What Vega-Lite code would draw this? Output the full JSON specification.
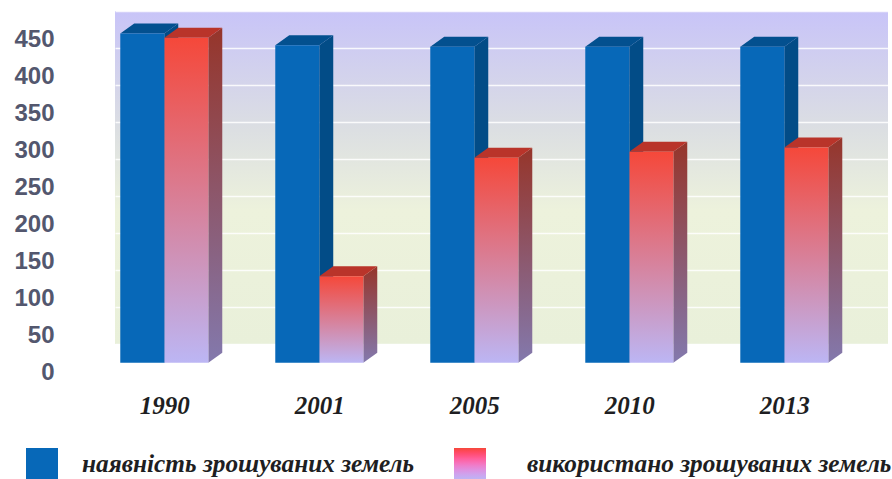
{
  "$schema": "https://vega.github.io/schema/vega-lite/v6.json",
  "autosize": "none",
  "width": 773,
  "height": 333,
  "padding": {"left": 115, "top": 11, "right": 4, "bottom": 135},
  "background": "#ffffff",
  "view": {
    "stroke": null,
    "fill": {
      "x1": 0, "y1": 0, "x2": 0, "y2": 1, "gradient": "linear",
      "stops": [
        {"offset": 0, "color": "#c8c4f8"},
        {"offset": 0.36, "color": "#dcdfe2"},
        {"offset": 0.6, "color": "#edf2dc"},
        {"offset": 1, "color": "#e9f0da"}
      ]
    }
  },
  "data": {
    "values": [
      {"year": "1990", "series": "наявність зрошуваних земель", "value": 445},
      {"year": "2001", "series": "наявність зрошуваних земель", "value": 429},
      {"year": "2005", "series": "наявність зрошуваних земель", "value": 427},
      {"year": "2010", "series": "наявність зрошуваних земель", "value": 427},
      {"year": "2013", "series": "наявність зрошуваних земель", "value": 427},
      {"year": "1990", "series": "використано зрошуваних земель", "value": 439},
      {"year": "2001", "series": "використано зрошуваних земель", "value": 117},
      {"year": "2005", "series": "використано зрошуваних земель", "value": 277},
      {"year": "2010", "series": "використано зрошуваних земель", "value": 285},
      {"year": "2013", "series": "використано зрошуваних земель", "value": 291}
    ]
  },
  "transform": [
    {"calculate": "indexof(['1990','2001','2005','2010','2013'], datum.year)", "as": "slot"},
    {"calculate": "datum.slot + (datum.series === 'наявність зрошуваних земель' ? -0.284 : 0)", "as": "left"},
    {"calculate": "datum.left + 0.284", "as": "right"},
    {"calculate": "[0, 1]", "as": "t"}
  ],
  "resolve": {
    "scale": {"y": "independent", "fill": "independent"},
    "axis": {"y": "independent"},
    "legend": {"fill": "independent"}
  },
  "layer": [
    {
      "description": "Back wall gridlines and the value axis",
      "mark": {"type": "rule", "opacity": 0},
      "encoding": {
        "y": {
          "field": "value",
          "type": "quantitative",
          "scale": {"domain": [0, 450], "nice": false, "zero": false},
          "axis": {
            "title": null,
            "values": [0, 50, 100, 150, 200, 250, 300, 350, 400, 450],
            "domain": false,
            "ticks": false,
            "grid": true,
            "gridColor": "#ffffff",
            "gridWidth": 1.5,
            "gridOpacity": 0.85,
            "labelOffset": 28,
            "labelPadding": 61,
            "labelFont": "Liberation Sans",
            "labelFontWeight": "bold",
            "labelFontSize": 24,
            "labelColor": "#53576e",
            "labelBound": false,
            "labelFlush": false,
            "labelOverlap": false
          }
        }
      }
    },
    {
      "description": "Three-dimensional columns: side and top faces behind the gradient fronts",
      "encoding": {
        "x": {
          "type": "quantitative",
          "scale": {"domain": [-0.318, 4.669], "nice": false, "zero": false},
          "axis": {
            "title": null,
            "values": [0, 1, 2, 3, 4],
            "labelExpr": "['1990','2001','2005','2010','2013'][datum.value]",
            "domain": false,
            "ticks": false,
            "grid": false,
            "labelPadding": 49,
            "labelFont": "Liberation Serif",
            "labelFontStyle": "italic",
            "labelFontWeight": "bold",
            "labelFontSize": 25,
            "labelColor": "#1e1e22",
            "labelBound": false,
            "labelFlush": false,
            "labelOverlap": false
          }
        }
      },
      "resolve": {
        "scale": {"fill": "independent"},
        "legend": {"fill": "independent"}
      },
      "layer": [
        {
          "transform": [
            {"filter": "datum.series === 'наявність зрошуваних земель'"},
            {"flatten": ["t"]},
            {"calculate": "datum.right + datum.t * 0.09", "as": "sx"},
            {"calculate": "datum.value + datum.t * 13.5", "as": "sTop"},
            {"calculate": "datum.t * 13.5", "as": "sBase"}
          ],
          "mark": {"type": "area", "fill": "#024c87"},
          "encoding": {
            "x": {"field": "sx", "type": "quantitative"},
            "y": {"field": "sTop", "type": "quantitative", "stack": null,
                  "scale": {"domain": [25.3, 475.3], "nice": false, "zero": false}, "axis": null},
            "y2": {"field": "sBase"},
            "detail": {"field": "year"}
          }
        },
        {
          "transform": [
            {"filter": "datum.series === 'наявність зрошуваних земель'"},
            {"flatten": ["t"]},
            {"calculate": "datum.left + datum.t * 0.09", "as": "tx"},
            {"calculate": "datum.right + datum.t * 0.09", "as": "tx2"},
            {"calculate": "datum.value + datum.t * 13.5", "as": "ty"}
          ],
          "mark": {"type": "area", "orient": "horizontal", "fill": "#03508f"},
          "encoding": {
            "y": {"field": "ty", "type": "quantitative", "stack": null},
            "x": {"field": "tx", "type": "quantitative"},
            "x2": {"field": "tx2"},
            "detail": {"field": "year"}
          }
        },
        {
          "transform": [
            {"filter": "datum.series === 'використано зрошуваних земель'"},
            {"flatten": ["t"]},
            {"calculate": "datum.right + datum.t * 0.09", "as": "sx"},
            {"calculate": "datum.value + datum.t * 13.5", "as": "sTop"},
            {"calculate": "datum.t * 13.5", "as": "sBase"}
          ],
          "mark": {
            "type": "area",
            "fill": {
              "x1": 0, "y1": 0, "x2": 0, "y2": 1, "gradient": "linear",
              "stops": [
                {"offset": 0, "color": "#96352a"},
                {"offset": 1, "color": "#8379ad"}
              ]
            }
          },
          "encoding": {
            "x": {"field": "sx", "type": "quantitative"},
            "y": {"field": "sTop", "type": "quantitative", "stack": null},
            "y2": {"field": "sBase"},
            "detail": {"field": "year"}
          }
        },
        {
          "transform": [
            {"filter": "datum.series === 'використано зрошуваних земель'"},
            {"flatten": ["t"]},
            {"calculate": "datum.left + datum.t * 0.09", "as": "tx"},
            {"calculate": "datum.right + datum.t * 0.09", "as": "tx2"},
            {"calculate": "datum.value + datum.t * 13.5", "as": "ty"}
          ],
          "mark": {"type": "area", "orient": "horizontal", "fill": "#b9342a"},
          "encoding": {
            "y": {"field": "ty", "type": "quantitative", "stack": null},
            "x": {"field": "tx", "type": "quantitative"},
            "x2": {"field": "tx2"},
            "detail": {"field": "year"}
          }
        },
        {
          "transform": [
            {"filter": "datum.series === 'використано зрошуваних земель'"}
          ],
          "mark": {
            "type": "rect",
            "fill": {
              "x1": 0, "y1": 0, "x2": 0, "y2": 1, "gradient": "linear",
              "stops": [
                {"offset": 0, "color": "#f5483a"},
                {"offset": 1, "color": "#bcb6f4"}
              ]
            }
          },
          "encoding": {
            "x": {"field": "left", "type": "quantitative"},
            "x2": {"field": "right"},
            "y": {"field": "value", "type": "quantitative", "stack": null},
            "y2": {"datum": 0}
          }
        },
        {
          "transform": [
            {"filter": "datum.series === 'використано зрошуваних земель'"}
          ],
          "mark": {"type": "rect", "opacity": 0},
          "encoding": {
            "x": {"field": "left", "type": "quantitative"},
            "x2": {"field": "right"},
            "y": {"field": "value", "type": "quantitative", "stack": null},
            "y2": {"datum": 0},
            "fill": {
              "field": "value",
              "type": "quantitative",
              "scale": {"domain": [0, 450], "range": ["#bcb6f4", "#f5483a"], "nice": false},
              "legend": {
                "type": "gradient",
                "title": null,
                "orient": "none",
                "legendX": 339,
                "legendY": 437,
                "direction": "vertical",
                "gradientLength": 32,
                "gradientThickness": 32,
                "gradientOpacity": 1,
                "gradientStrokeWidth": 0,
                "values": [225],
                "labelExpr": "'використано зрошуваних земель'",
                "labelOffset": 41,
                "labelOverlap": false,
                "labelBaseline": "middle",
                "labelFont": "Liberation Serif",
                "labelFontStyle": "italic",
                "labelFontWeight": "bold",
                "labelFontSize": 25.3,
                "labelColor": "#1e1e22",
                "labelLimit": 500
              }
            }
          }
        },
        {
          "transform": [
            {"filter": "datum.series === 'наявність зрошуваних земель'"}
          ],
          "mark": {"type": "rect"},
          "encoding": {
            "x": {"field": "left", "type": "quantitative"},
            "x2": {"field": "right"},
            "y": {"field": "value", "type": "quantitative", "stack": null},
            "y2": {"datum": 0},
            "fill": {
              "field": "series",
              "type": "nominal",
              "scale": {"range": ["#0768b8"]},
              "legend": {
                "title": null,
                "orient": "none",
                "legendX": -89,
                "legendY": 437,
                "symbolType": "square",
                "symbolSize": 1024,
                "symbolStrokeWidth": 0,
                "labelOffset": 24,
                "labelFont": "Liberation Serif",
                "labelFontStyle": "italic",
                "labelFontWeight": "bold",
                "labelFontSize": 25.3,
                "labelColor": "#1e1e22",
                "labelLimit": 500
              }
            }
          }
        }
      ]
    }
  ]
}
